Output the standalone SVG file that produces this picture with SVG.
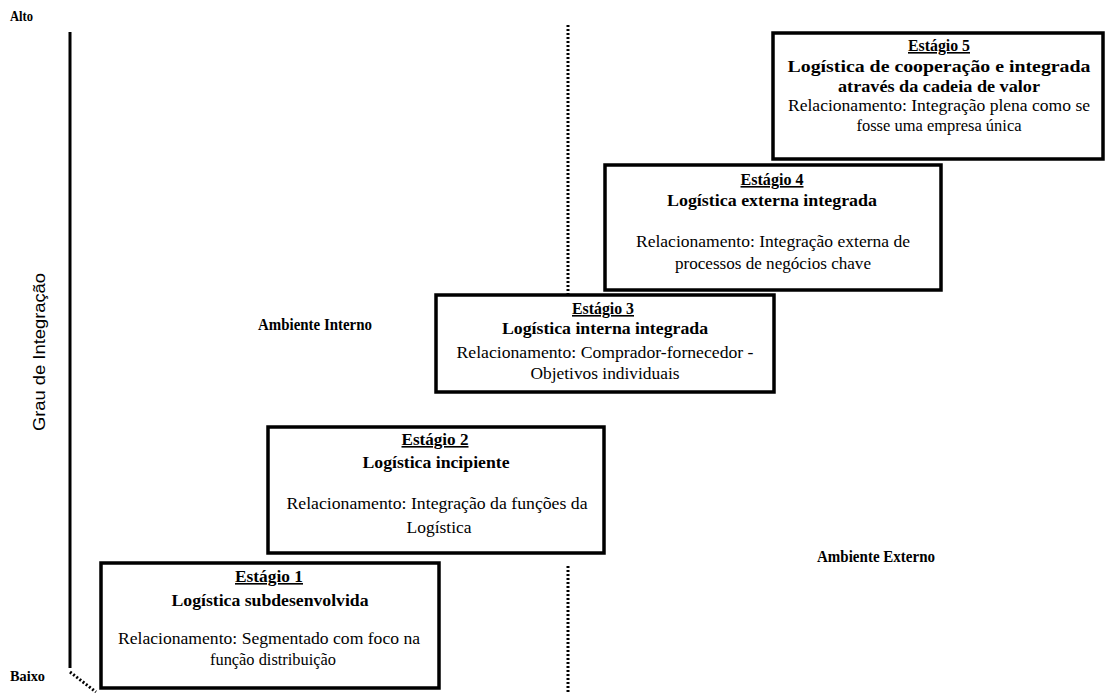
<svg xmlns="http://www.w3.org/2000/svg" width="1105" height="693" viewBox="0 0 1105 693">
<style>
.box{fill:#fff;stroke:#000;stroke-width:3.5}
.t{font-family:"Liberation Serif","Times New Roman","DejaVu Serif",serif;font-size:16px;fill:#000;text-anchor:middle}
.b{font-weight:bold}
.u{font-weight:bold;text-decoration:underline}
.lab{font-family:"Liberation Serif","Times New Roman","DejaVu Serif",serif;font-size:14px;font-weight:bold;fill:#000}
.ax{font-family:"Liberation Sans",Arial,sans-serif;font-size:16px;fill:#000}
.dot{stroke:#000;stroke-width:3;stroke-dasharray:2 2;fill:none}
</style>
<rect width="1105" height="693" fill="#fff"/>
<g id="axis">
<line x1="70" y1="32" x2="70" y2="668" stroke="#000" stroke-width="3"/>
<path class="dot" d="M70 672 L96 692"/>
<text class="lab" x="10" y="21" textLength="23" lengthAdjust="spacingAndGlyphs">Alto</text>
<text class="lab" x="10" y="681" textLength="35" lengthAdjust="spacingAndGlyphs">Baixo</text>
<text class="ax" transform="translate(45,352) rotate(-90)" text-anchor="middle" textLength="158" lengthAdjust="spacingAndGlyphs">Grau de Integração</text>
</g>
<g id="connectors">
<line class="dot" x1="568" y1="25" x2="568" y2="295"/>
<line class="dot" x1="568" y1="566" x2="568" y2="693"/>
</g>
<g id="labels">
<text class="t b" x="315" y="330" textLength="114" lengthAdjust="spacingAndGlyphs">Ambiente Interno</text>
<text class="t b" x="876" y="562" textLength="118" lengthAdjust="spacingAndGlyphs">Ambiente Externo</text>
</g>
<g id="stage5">
<rect class="box" x="773" y="33" width="330" height="126"/>
<text class="t u" x="939" y="51" textLength="62" lengthAdjust="spacingAndGlyphs">Estágio 5</text>
<text class="t b" x="939" y="72" textLength="303" lengthAdjust="spacingAndGlyphs">Logística de cooperação e integrada</text>
<text class="t b" x="939" y="92" textLength="202" lengthAdjust="spacingAndGlyphs">através da cadeia de valor</text>
<text class="t" x="939" y="111" textLength="302" lengthAdjust="spacingAndGlyphs">Relacionamento: Integração plena como se</text>
<text class="t" x="939" y="131" textLength="165" lengthAdjust="spacingAndGlyphs">fosse uma empresa única</text>
</g>
<g id="stage4">
<rect class="box" x="605" y="165" width="336" height="125"/>
<text class="t u" x="772" y="185" textLength="63" lengthAdjust="spacingAndGlyphs">Estágio 4</text>
<text class="t b" x="772" y="206" textLength="210" lengthAdjust="spacingAndGlyphs">Logística externa integrada</text>
<text class="t" x="773" y="247" textLength="274" lengthAdjust="spacingAndGlyphs">Relacionamento: Integração externa de</text>
<text class="t" x="773" y="269" textLength="196" lengthAdjust="spacingAndGlyphs">processos de negócios chave</text>
</g>
<g id="stage3">
<rect class="box" x="436" y="295" width="338" height="97"/>
<text class="t u" x="603" y="314" textLength="62" lengthAdjust="spacingAndGlyphs">Estágio 3</text>
<text class="t b" x="605" y="334" textLength="206" lengthAdjust="spacingAndGlyphs">Logística interna integrada</text>
<text class="t" x="605" y="358" textLength="297" lengthAdjust="spacingAndGlyphs">Relacionamento: Comprador-fornecedor -</text>
<text class="t" x="605" y="379" textLength="149" lengthAdjust="spacingAndGlyphs">Objetivos individuais</text>
</g>
<g id="stage2">
<rect class="box" x="268" y="427" width="336" height="126"/>
<text class="t u" x="435" y="445" textLength="67" lengthAdjust="spacingAndGlyphs">Estágio 2</text>
<text class="t b" x="436" y="468" textLength="147" lengthAdjust="spacingAndGlyphs">Logística incipiente</text>
<text class="t" x="437" y="509" textLength="301" lengthAdjust="spacingAndGlyphs">Relacionamento: Integração da funções da</text>
<text class="t" x="439" y="533" textLength="65" lengthAdjust="spacingAndGlyphs">Logística</text>
</g>
<g id="stage1">
<rect class="box" x="101" y="563" width="338" height="125"/>
<text class="t u" x="269" y="582" textLength="68" lengthAdjust="spacingAndGlyphs">Estágio 1</text>
<text class="t b" x="270" y="606" textLength="197" lengthAdjust="spacingAndGlyphs">Logística subdesenvolvida</text>
<text class="t" x="269" y="644" textLength="302" lengthAdjust="spacingAndGlyphs">Relacionamento: Segmentado com foco na</text>
<text class="t" x="273" y="665" textLength="126" lengthAdjust="spacingAndGlyphs">função distribuição</text>
</g>
</svg>
